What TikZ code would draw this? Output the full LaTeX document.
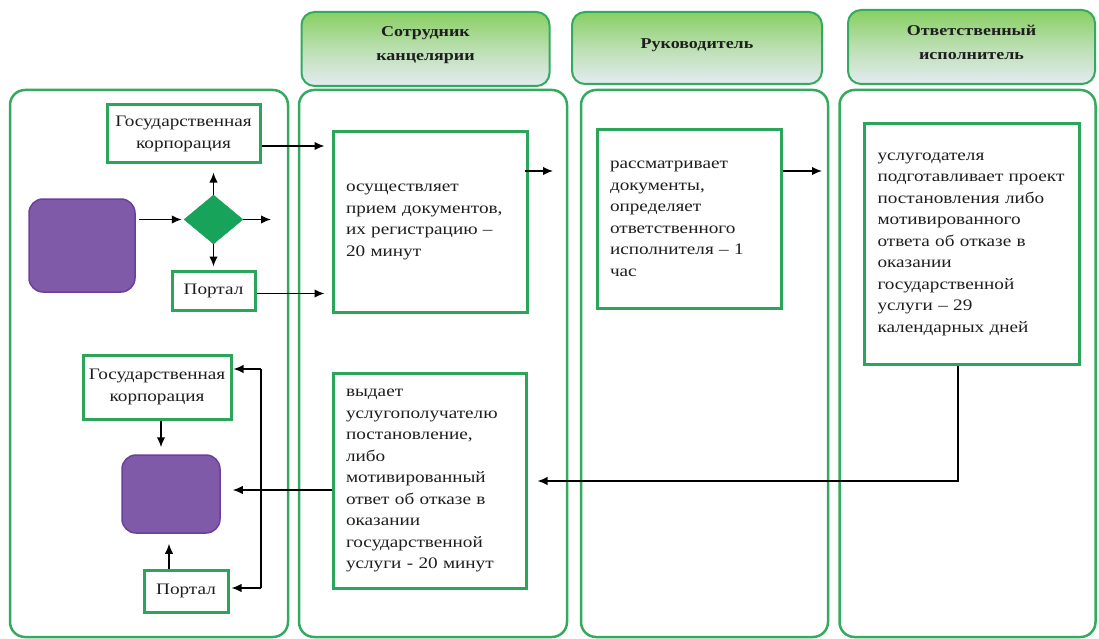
\documentclass[tikz,border=0pt]{standalone}
\usepackage{fontspec}
\setmainfont{Liberation Serif}[FakeStretch=1.2]
\usetikzlibrary{arrows.meta,shapes.geometric}
\definecolor{lanegreen}{HTML}{34AA5E}
\definecolor{boxgreen}{HTML}{2BA55A}
\definecolor{purp}{HTML}{7E5AA8}
\definecolor{purpdark}{HTML}{6B3F9B}
\definecolor{diam}{HTML}{17A359}
\definecolor{hdtop}{HTML}{88CF62}
\definecolor{hdbot}{HTML}{E4ECF2}
\definecolor{txt}{HTML}{1E1E1E}
\begin{document}
\begin{tikzpicture}[x=1pt,y=-1pt,
  lane/.style={draw=lanegreen,line width=2.5pt,rounded corners=15pt},
  header/.style={draw=lanegreen,line width=2pt,rounded corners=13pt,top color=hdtop,bottom color=hdbot,middle color=hdbot!55!hdtop},
  htext/.style={font=\bfseries\fontsize{15}{24}\selectfont,align=center,text=txt},
  box/.style={draw=boxgreen,line width=3pt,fill=white,align=left,inner xsep=13pt,inner ysep=0pt,font=\fontsize{16}{21.5}\selectfont,text=txt},
  sbox/.style={draw=boxgreen,line width=3pt,fill=white,align=center,inner sep=0pt,font=\fontsize{16}{21.5}\selectfont,text=txt},
  term/.style={draw=purpdark,line width=1.5pt,fill=purp,rounded corners=14pt,inner sep=0pt},
  dec/.style={diamond,fill=diam,draw=diam,inner sep=0pt,aspect=1.2},
  arr/.style={line width=1.5pt,-{Latex[length=10pt,width=8.5pt]}},
  ln/.style={line width=1.5pt}
]
\useasboundingbox (0,0) rectangle (1099,639);
% lanes
\node[lane,minimum width=278pt,minimum height=547pt] (L1) at (149,363.5) {};
\node[lane,minimum width=268pt,minimum height=547pt] (L2) at (433,363.5) {};
\node[lane,minimum width=247pt,minimum height=547pt] (L3) at (704.5,363.5) {};
\node[lane,minimum width=256pt,minimum height=547pt] (L4) at (967.5,363.5) {};
% headers
\node[header,minimum width=248pt,minimum height=74pt] (H1) at (425.5,49) {};
\node[htext] (H1t) at (425.5,45) {Сотрудник\\канцелярии};
\node[header,minimum width=250pt,minimum height=72pt] (H2) at (697,48) {};
\node[htext] (H2t) at (697,45) {Руководитель};
\node[header,minimum width=247pt,minimum height=74pt] (H3) at (971.5,47) {};
\node[htext] (H3t) at (971.5,42) {Ответственный\\исполнитель};
% left lane top
\node[sbox,minimum width=153pt,minimum height=58pt] (GK1) at (183.5,134) {Государственная\\корпорация};
\node[term,minimum width=106pt,minimum height=93pt] (P1) at (82,245.5) {};
\node[dec,minimum width=59pt,minimum height=49pt] (D) at (213.5,219.5) {};
\node[sbox,minimum width=83pt,minimum height=39pt] (PT1) at (213.5,290.5) {Портал};
% process boxes
\node[box,text width=168pt,minimum height=180pt] (B1) at (430,222) {осуществляет\\прием документов,\\их регистрацию –\\20 минут};
\node[box,text width=158pt,minimum height=178pt] (B2) at (689,219) {рассматривает\\документы,\\определяет\\ответственного\\исполнителя – 1\\час};
\node[box,text width=189pt,minimum height=240pt] (B3) at (972,244) {услугодателя\\подготавливает проект\\постановления либо\\мотивированного\\ответа об отказе в\\оказании\\государственной\\услуги – 29\\календарных дней};
\node[box,text width=167pt,minimum height=215pt] (B4) at (429.5,480.5) {выдает\\услугополучателю\\постановление,\\либо\\мотивированный\\ответ об отказе в\\оказании\\государственной\\услуги - 20 минут};
% left lane bottom
\node[sbox,minimum width=148pt,minimum height=64pt] (GK2) at (157,387) {Государственная\\корпорация};
\node[term,minimum width=98pt,minimum height=78pt] (P2) at (171,494) {};
\node[sbox,minimum width=84pt,minimum height=42pt] (PT2) at (186,591) {Портал};
% free ends / junctions
\coordinate (e1) at (271,219.5);
\coordinate (e2) at (553,171);
\coordinate (e3) at (822,171);
\coordinate (j) at (261,490);
\coordinate (jt) at (261,369);
\coordinate (jb) at (261,588);
\coordinate (xa) at (161,0);
\coordinate (xb) at (169,0);
% connectors top
\draw[arr] ([xshift=3pt]P1.east|-D.west) -- ([xshift=-2pt]D.west);
\draw[arr] (D.east) -- (e1);
\draw[arr] (D.north) -- ([yshift=-8pt]D.north|-GK1.south);
\draw[arr] (D.south) -- ([yshift=3pt]D.south|-PT1.north);
\draw[arr] ([yshift=-12pt]GK1.east) -- ([xshift=-7pt,yshift=-12pt]GK1.east-|B1.west);
\draw[arr] ([yshift=-3pt]PT1.east) -- ([xshift=-7pt,yshift=-3pt]PT1.east-|B1.west);
\draw[arr] ([xshift=-4pt]B1.east|-e2) -- (e2);
\draw[arr] (B2.east|-e3) -- (e3);
% return path
\draw[arr] ([xshift=-14pt]B3.south) |- ([xshift=10pt,yshift=-0.5pt]B4.east);
\draw[arr] (B4.west|-j) -- ([xshift=12pt]P2.east|-j);
\draw[ln] (jt) -- (jb);
\draw[arr] (jt) -- ([xshift=1pt]GK2.east|-jt);
\draw[arr] (jb) -- ([xshift=2pt]PT2.east|-jb);
\draw[arr] (xa|-GK2.south) -- ([yshift=7pt]xa|-P2.north);
\draw[arr] (xb|-PT2.north) -- ([yshift=-10pt]xb|-P2.south);
\end{tikzpicture}
\end{document}
